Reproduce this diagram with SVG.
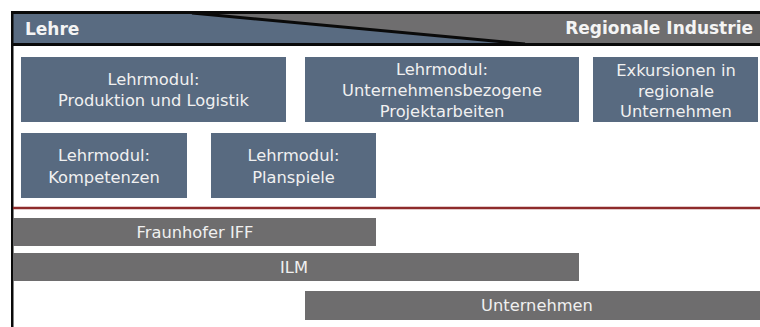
<svg xmlns="http://www.w3.org/2000/svg" width="760" height="327" viewBox="0 0 760 327">
<style>
.box{fill:#586a80}
.bar{fill:#6e6d6e}
.t{font-family:"DejaVu Sans",Verdana,sans-serif;font-size:16.3px;fill:#f0f0f0;text-anchor:middle}
.h{font-family:"DejaVu Sans",Verdana,sans-serif;font-size:17px;font-weight:bold;fill:#f4f4f4}
</style>
<rect width="760" height="327" fill="#ffffff"/>
<g id="header">
<rect x="13" y="13" width="747" height="31" fill="#6f6e6f"/>
<polygon points="13,13 196,13 523,44 13,44" fill="#596b81"/>
<line x1="192" y1="13" x2="525" y2="44" stroke="#0a0a0a" stroke-width="3"/>
<rect x="11" y="11" width="749" height="3" fill="#0a0a0a"/>
<rect x="11" y="43" width="749" height="3" fill="#0a0a0a"/>
<text class="h" x="25" y="35">Lehre</text>
<text class="h" x="753" y="34" text-anchor="end">Regionale Industrie</text>
</g>
<rect x="11" y="11" width="2.5" height="316" fill="#0a0a0a"/>
<g id="lm-produktion">
<rect class="box" x="21" y="57" width="265" height="65"/>
<text class="t" x="153.5" y="85.3">Lehrmodul:</text>
<text class="t" x="153.5" y="106.3">Produktion und Logistik</text>
</g>
<g id="lm-projektarbeiten">
<rect class="box" x="305" y="57" width="274" height="65"/>
<text class="t" x="442" y="75">Lehrmodul:</text>
<text class="t" x="442" y="96">Unternehmensbezogene</text>
<text class="t" x="442" y="117">Projektarbeiten</text>
</g>
<g id="exkursionen">
<rect class="box" x="593" y="57" width="165" height="65"/>
<text class="t" x="676" y="76">Exkursionen in</text>
<text class="t" x="676" y="97">regionale</text>
<text class="t" x="676" y="117">Unternehmen</text>
</g>
<g id="lm-kompetenzen">
<rect class="box" x="21" y="133" width="166" height="65"/>
<text class="t" x="104" y="161">Lehrmodul:</text>
<text class="t" x="104" y="182.5">Kompetenzen</text>
</g>
<g id="lm-planspiele">
<rect class="box" x="211" y="133" width="165" height="65"/>
<text class="t" x="293.5" y="161">Lehrmodul:</text>
<text class="t" x="293.5" y="182.5">Planspiele</text>
</g>
<line x1="13" y1="208" x2="760" y2="208" stroke="#8e2b2b" stroke-width="2.5"/>
<g id="fraunhofer">
<rect class="bar" x="13" y="218" width="363" height="28"/>
<text class="t" x="195" y="237.5">Fraunhofer IFF</text>
</g>
<g id="ilm">
<rect class="bar" x="13" y="253" width="566" height="28"/>
<text class="t" x="294" y="272.5">ILM</text>
</g>
<g id="unternehmen">
<rect class="bar" x="305" y="291" width="455" height="29"/>
<text class="t" x="537" y="311">Unternehmen</text>
</g>
</svg>
